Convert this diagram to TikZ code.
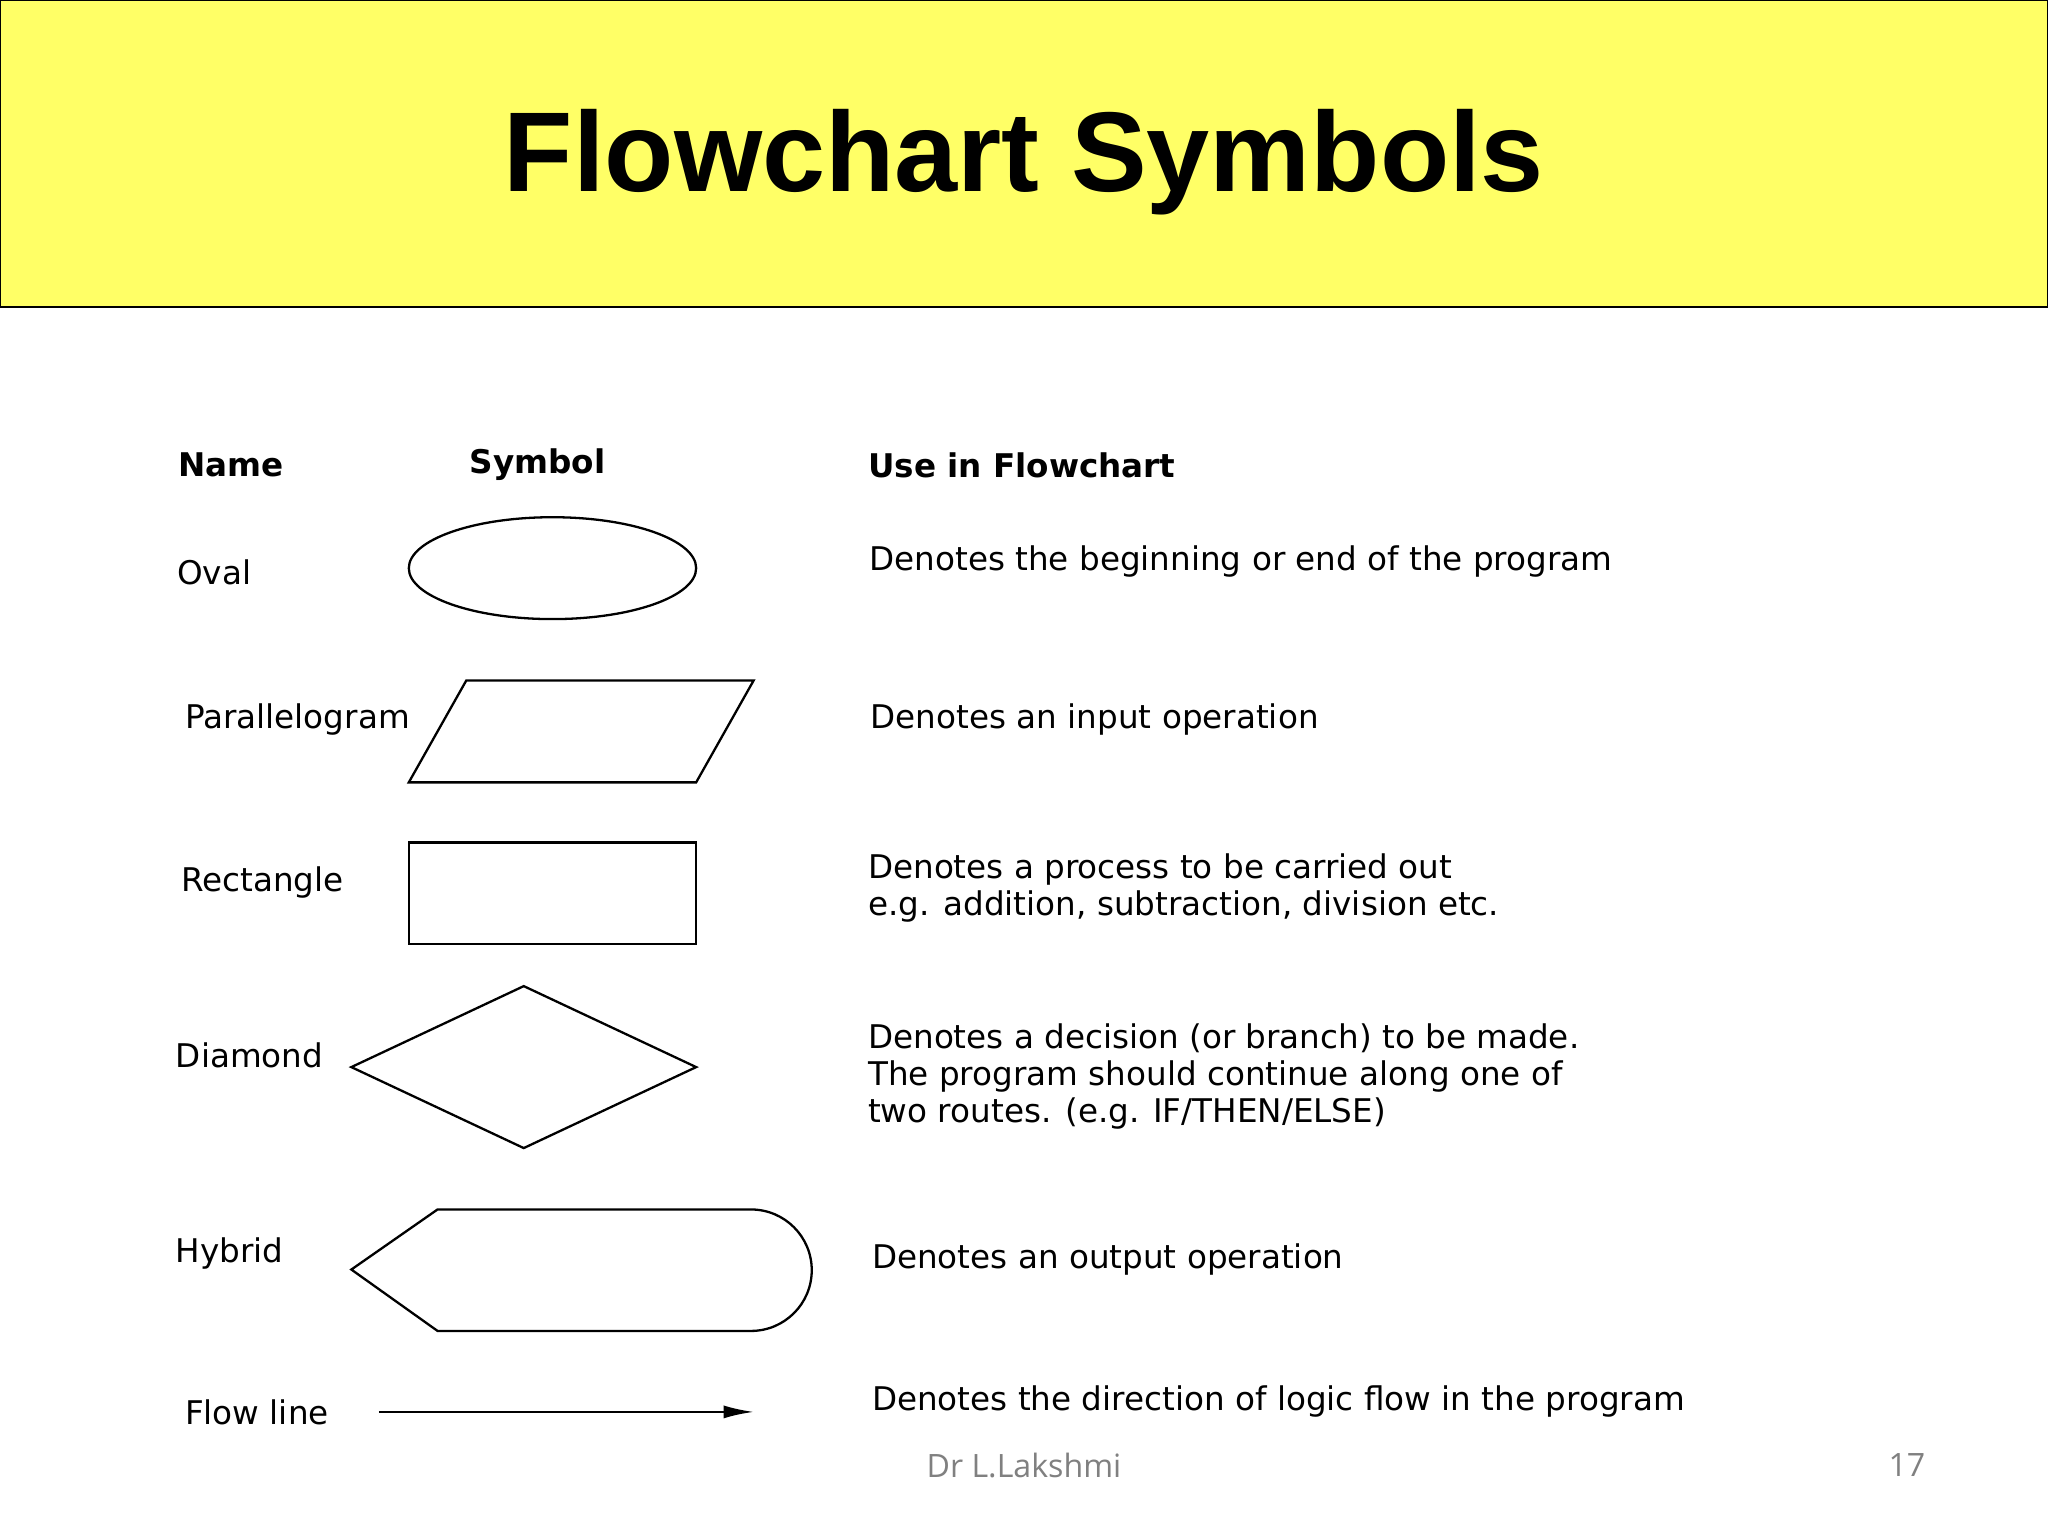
\documentclass[tikz,border=0pt]{standalone}
\usepackage{fontspec}
\setmainfont{DejaVu Sans}
\newfontfamily\footfont{Open Sans}
\newfontfamily\titlefont{Liberation Sans}
\usetikzlibrary{arrows.meta}
\begin{document}
\begin{tikzpicture}[x=0.01cm,y=-0.01cm,
  lbl/.style={anchor=west,inner sep=0pt,font=\fontsize{7.1}{8.1}\selectfont,align=left},
  hdr/.style={lbl,font=\fontsize{7.1}{8.1}\selectfont\bfseries},
  shp/.style={draw,line width=0.5pt}]
\useasboundingbox (0,0) rectangle (1568,1176);
\fill[white] (0,0) rectangle (1568,1176);
\draw[fill={rgb,255:red,255;green,255;blue,102},line width=0.6pt] (0,0) rectangle (1568,235);
\node[font=\titlefont\bfseries\fontsize{24.7}{30}\selectfont] (title) at (784,124) {Flowchart Symbols};
\node[hdr] (hn) at (136,356) {Name};
\node[hdr] (hs) at (359,356) {Symbol};
\node[hdr] (hu) at (664,356) {Use in Flowchart};
\node[lbl] (n1) at (135,438) {Oval};
\node[lbl] (n2) at (141,551) {Parallelogram};
\node[lbl] (n3) at (138,676) {Rectangle};
\node[lbl] (n4) at (134,808) {Diamond};
\node[lbl] (n5) at (134,960) {Hybrid};
\node[lbl] (n6) at (141,1081) {Flow line};
\node[lbl] (u1) at (665,430) {Denotes the beginning or end of the program};
\node[lbl] (u2) at (666,551) {Denotes an input operation};
\node[lbl] (u3) at (664,680) {Denotes a process to be carried out\\e.g. addition, subtraction, division etc.};
\node[lbl] (u4) at (664,824) {Denotes a decision (or branch) to be made.\\The program should continue along one of\\two routes. (e.g. IF/THEN/ELSE)};
\node[lbl] (u5) at (667,964) {Denotes an output operation};
\node[lbl] (u6) at (667,1073) {Denotes the direction of logic flow in the program};
\draw[shp] (423,435) ellipse [x radius=110,y radius=39];
\draw[shp] (313,599) -- (357,521) -- (577,521) -- (533,599) -- cycle;
\draw[shp] (313,645) rectangle (533,723);
\draw[shp] (269,817) -- (401,755) -- (533,817) -- (401,879) -- cycle;
\draw[shp] (269,972) -- (335,926) -- (575,926) arc[start angle=-90,end angle=90,radius=46.5] -- (335,1019) -- cycle;
\coordinate (fa) at (290,1081);
\coordinate (fb) at (577,1081);
\draw[shp,-{Latex[length=0.23cm,width=0.1cm]}] (fa) -- (fb);
\node[font=\footfont\fontsize{7}{9}\selectfont,text=gray] (f1) at (784,1122) {Dr L.Lakshmi};
\node[font=\footfont\fontsize{7}{9}\selectfont,text=gray] (f2) at (1460,1122) {17};
\end{tikzpicture}
\end{document}
